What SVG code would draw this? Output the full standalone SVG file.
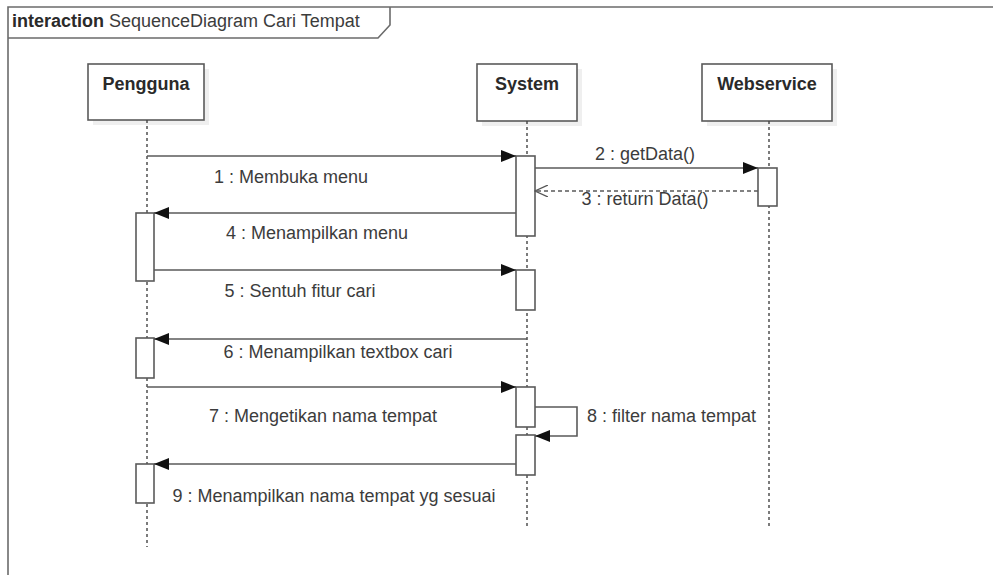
<svg xmlns="http://www.w3.org/2000/svg" width="993" height="575" viewBox="0 0 993 575">
<style>
  .frame{fill:none;stroke:#6b6b6b;stroke-width:1.6}
  .box{fill:#fff;stroke:#5a5a5a;stroke-width:1.6}
  .shadow{fill:#efefef}
  .life{stroke:#444;stroke-width:1.4;stroke-dasharray:3,3;fill:none}
  .act{fill:#fff;stroke:#5a5a5a;stroke-width:1.6}
  .msg{stroke:#5a5a5a;stroke-width:1.6;fill:none}
  .ret{stroke:#5a5a5a;stroke-width:1.4;fill:none;stroke-dasharray:4,3}
  text{font-family:"Liberation Sans",Arial,sans-serif;font-size:18px;fill:#3c3c3c}
  .bold{font-weight:bold;fill:#2a2a2a}
</style>
<defs>
  <marker id="filled" markerWidth="16" markerHeight="12" refX="15" refY="6" orient="auto" markerUnits="userSpaceOnUse">
    <path d="M0,0 L15,6 L0,12 Z" fill="#111"/>
  </marker>
  <marker id="open" markerWidth="14" markerHeight="12" refX="13" refY="6" orient="auto" markerUnits="userSpaceOnUse">
    <path d="M0,0 L13,6 L0,12" fill="none" stroke="#555" stroke-width="1.3"/>
  </marker>
</defs>
<rect width="993" height="575" fill="#fff"/>
<g id="frame">
  <path class="frame" d="M8,575 L8,7 L993,7"/>
  <path class="frame" d="M8,38 L378,38 L390,25 L390,7"/>
  <text x="12" y="27"><tspan class="bold">interaction</tspan> SequenceDiagram Cari Tempat</text>
</g>
<g id="pengguna">
  <rect class="shadow" x="93" y="69" width="116" height="56"/>
  <rect class="box" x="88" y="64" width="116" height="56"/>
  <text class="bold" x="146" y="90" text-anchor="middle">Pengguna</text>
  <line class="life" x1="147" y1="120" x2="147" y2="547"/>
  <rect class="act" x="136" y="213" width="18" height="68"/>
  <rect class="act" x="136" y="338" width="18" height="40"/>
  <rect class="act" x="136" y="464" width="18" height="39"/>
</g>
<g id="system">
  <rect class="shadow" x="482" y="69" width="100" height="57"/>
  <rect class="box" x="477" y="64" width="100" height="57"/>
  <text class="bold" x="527" y="90" text-anchor="middle">System</text>
  <line class="life" x1="527" y1="121" x2="527" y2="527"/>
  <rect class="act" x="516" y="156" width="19" height="80"/>
  <rect class="act" x="516" y="270" width="19" height="40"/>
  <rect class="act" x="516" y="387" width="19" height="40"/>
  <rect class="act" x="516" y="435" width="19" height="40"/>
</g>
<g id="webservice">
  <rect class="shadow" x="707" y="69" width="130" height="57"/>
  <rect class="box" x="702" y="64" width="130" height="57"/>
  <text class="bold" x="767" y="90" text-anchor="middle">Webservice</text>
  <line class="life" x1="769" y1="121" x2="769" y2="527"/>
  <rect class="act" x="758" y="168" width="19" height="38"/>
</g>
<g id="connectors">
  <line class="msg" x1="147" y1="156" x2="516" y2="156" marker-end="url(#filled)"/>
  <line class="msg" x1="535" y1="168" x2="758" y2="168" marker-end="url(#filled)"/>
  <line class="ret" x1="758" y1="191" x2="535" y2="191" marker-end="url(#open)"/>
  <line class="msg" x1="516" y1="213" x2="154" y2="213" marker-end="url(#filled)"/>
  <line class="msg" x1="154" y1="270" x2="516" y2="270" marker-end="url(#filled)"/>
  <line class="msg" x1="527" y1="339" x2="154" y2="339" marker-end="url(#filled)"/>
  <line class="msg" x1="147" y1="387" x2="516" y2="387" marker-end="url(#filled)"/>
  <path class="msg" d="M535,407 L577,407 L577,436 L535,436" marker-end="url(#filled)"/>
  <line class="msg" x1="516" y1="464" x2="154" y2="464" marker-end="url(#filled)"/>
  <text x="291" y="183" text-anchor="middle">1 : Membuka menu</text>
  <text x="645" y="160" text-anchor="middle">2 : getData()</text>
  <text x="645" y="205" text-anchor="middle">3 : return Data()</text>
  <text x="317" y="239" text-anchor="middle">4 : Menampilkan menu</text>
  <text x="300" y="297" text-anchor="middle">5 : Sentuh fitur cari</text>
  <text x="338" y="358" text-anchor="middle">6 : Menampilkan textbox cari</text>
  <text x="323" y="422" text-anchor="middle">7 : Mengetikan nama tempat</text>
  <text x="587" y="422">8 : filter nama tempat</text>
  <text x="334" y="502" text-anchor="middle">9 : Menampilkan nama tempat yg sesuai</text>
</g>
</svg>
